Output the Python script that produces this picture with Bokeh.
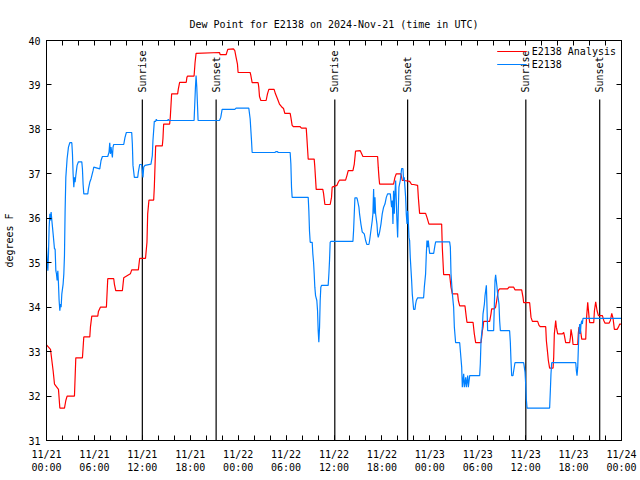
import numpy as np
from bokeh.plotting import figure
from bokeh.models import FixedTicker, LinearAxis, Range1d, Legend, LegendItem
from bokeh.core.properties import value
from bokeh.embed import file_html
from bokeh.resources import INLINE

FONT = "DejaVu Sans Mono"

# ---- data (hours since 2024-11-21 00:00 UTC) ----
analysis_hours = [0, 0.5, 0.67, 0.83, 1.0, 1.5, 1.67, 2.25, 2.42, 2.58, 3.5, 3.67, 4.5, 4.67, 5.42, 5.5, 5.67,
                  6.42, 6.5, 6.75, 7.5, 7.58, 7.67, 8.42, 8.5, 8.67, 9.5, 9.67, 10.5, 10.67, 11.5, 11.67, 12.4,
                  12.58, 12.67, 12.83, 13.42, 13.5, 13.67, 14.5, 14.58, 14.67, 15.42, 15.5, 15.67, 16.42, 16.5,
                  16.67, 17.5, 17.58, 17.67, 18.48, 18.6, 18.73, 21.66, 21.75, 22.49, 22.7, 23.41, 23.58, 23.74,
                  23.91, 23.99, 25.5, 25.58, 25.75, 26.5, 26.58, 26.67, 26.84, 27.5, 27.67, 27.84, 28.5, 28.67,
                  28.92, 29.17, 29.43, 29.68, 29.84, 30.51, 30.6, 30.76, 30.93, 31.76, 31.93, 32.52, 32.6, 32.77,
                  33.52, 33.6, 33.77, 34.6, 34.69, 34.86, 35.52, 35.69, 35.77, 36.36, 36.53, 36.7, 37.45, 37.62,
                  37.78, 38.37, 38.54, 38.7, 39.29, 39.45, 39.62, 41.46, 41.54, 41.63, 41.71, 43.46, 43.63, 43.8,
                  44.38, 44.55, 44.8, 45.47, 45.72, 45.97, 46.47, 46.56, 46.72, 47.47, 47.64, 47.89, 49.48, 49.56,
                  49.73, 50.48, 50.65, 50.82, 51.48, 51.57, 51.74, 52.4, 52.57, 52.65, 53.41, 53.57, 53.74, 54.41,
                  54.49, 54.58, 54.66, 54.74, 55.49, 55.66, 55.74, 56.07, 56.24, 56.41, 56.57, 56.74, 57.74, 57.91,
                  58.5, 58.66, 59.5, 59.67, 59.75, 60.5, 60.67, 60.84, 61.5, 61.67, 61.84, 62.51, 62.59, 62.76,
                  62.84, 63.0, 63.43, 63.51, 63.59, 63.76, 63.84, 64.01, 64.6, 64.76, 64.85, 65.01, 65.51, 65.6,
                  65.68, 65.85, 65.93, 66.52, 66.6, 66.68, 66.77, 66.85, 66.93, 67.02, 67.52, 67.6, 67.77, 67.94,
                  68.02, 68.52, 68.61, 68.77, 68.94, 69.11, 69.61, 69.78, 69.94, 70.44, 70.61, 70.78, 70.94, 71.11,
                  71.45, 71.61, 71.78, 72.0]
analysis_dewpt = [33.15, 33.05, 32.8, 32.57, 32.27, 32.15, 31.73, 31.73, 31.9, 32.0, 32.0, 32.86, 32.86, 33.33, 33.33,
                  33.55, 33.8, 33.8, 33.9, 34.0, 34.0, 34.3, 34.64, 34.64, 34.52, 34.37, 34.37, 34.66, 34.75, 34.84,
                  34.84, 35.1, 35.1, 35.46, 36.1, 36.41, 36.41, 36.7, 37.63, 37.63, 37.79, 38.12, 38.12, 38.27, 38.8,
                  38.8, 38.9, 39.06, 39.06, 39.17, 39.2, 39.2, 39.5, 39.71, 39.73, 39.68, 39.68, 39.8, 39.81, 39.77,
                  39.62, 39.47, 39.28, 39.28, 39.22, 39.05, 39.05, 38.95, 38.74, 38.65, 38.65, 38.8, 38.9, 38.9, 38.8,
                  38.69, 38.57, 38.51, 38.47, 38.36, 38.36, 38.27, 38.09, 38.06, 38.06, 38.03, 38.03, 37.82, 37.33,
                  37.33, 37.15, 36.65, 36.65, 36.56, 36.31, 36.31, 36.47, 36.7, 36.74, 36.81, 36.86, 36.86, 36.96,
                  37.07, 37.07, 37.22, 37.51, 37.52, 37.46, 37.39, 37.39, 37.15, 36.92, 36.77, 36.77, 36.92, 37.0,
                  37.0, 36.85, 36.85, 36.83, 36.76, 36.76, 36.74, 36.47, 36.11, 36.11, 36.02, 35.87, 35.87, 35.35,
                  34.73, 34.73, 34.45, 34.3, 34.3, 34.15, 34.03, 34.03, 33.77, 33.66, 33.66, 33.4, 33.2, 33.2, 33.32,
                  33.47, 33.55, 33.68, 33.68, 33.85, 33.96, 33.96, 34.0, 34.19, 34.37, 34.41, 34.41, 34.45, 34.45,
                  34.39, 34.39, 34.22, 34.1, 34.1, 33.77, 33.68, 33.68, 33.59, 33.56, 33.56, 33.25, 32.95, 32.8, 32.63,
                  32.63, 32.87, 33.4, 33.7, 33.55, 33.4, 33.4, 33.43, 33.36, 33.2, 33.2, 33.32, 33.5, 33.32, 33.16,
                  33.16, 33.43, 33.55, 33.4, 33.49, 33.4, 33.28, 33.28, 33.7, 34.11, 33.77, 33.65, 33.65, 33.92, 34.12,
                  33.92, 33.81, 33.81, 33.7, 33.64, 33.64, 33.7, 33.86, 33.75, 33.5, 33.5, 33.55, 33.62, 33.62]

station_hours = [0, 0.08, 0.17, 0.25, 0.33, 0.42, 0.5, 0.58, 0.67, 0.75, 0.83, 1.0, 1.08, 1.17, 1.25, 1.33, 1.42, 1.5,
                 1.58, 1.67, 1.75, 1.83, 1.92, 2.08, 2.17, 2.25, 2.33, 2.42, 2.58, 2.75, 2.92, 3.17, 3.25, 3.33, 3.42,
                 3.5, 3.58, 3.67, 3.83, 4.0, 4.42, 4.5, 4.58, 4.67, 5.17, 5.25, 5.42, 5.58, 5.83, 5.92, 6.67, 6.83,
                 7.0, 7.67, 7.83, 7.92, 8.0, 8.08, 8.25, 8.33, 8.42, 9.67, 9.83, 10.0, 10.67, 10.75, 10.83, 11.0,
                 11.42, 11.5, 11.67, 11.92, 12.0, 12.08, 12.17, 12.33, 13.08, 13.25, 13.33, 13.5, 13.67, 13.75, 13.83,
                 15.17, 15.25, 15.33, 18.48, 18.65, 18.73, 18.82, 18.98, 21.66, 21.82, 21.99, 23.58, 23.74, 25.33,
                 25.5, 25.67, 25.75, 28.59, 28.76, 28.92, 29.01, 30.51, 30.6, 30.68, 30.76, 32.77, 32.85, 32.93,
                 33.02, 33.27, 33.35, 33.44, 33.52, 33.6, 33.69, 33.85, 33.94, 34.02, 34.1, 34.19, 34.27, 34.35,
                 34.44, 35.27, 35.36, 35.44, 35.52, 35.61, 38.37, 38.45, 38.62, 38.87, 38.95, 39.12, 39.2, 39.37,
                 39.54, 39.79, 39.96, 40.12, 40.37, 40.46, 40.62, 40.79, 40.87, 40.96, 41.04, 41.13, 41.21, 41.38,
                 41.46, 41.54, 41.71, 41.88, 42.04, 42.21, 42.38, 42.55, 42.71, 43.05, 43.21, 43.3, 43.38, 43.46,
                 43.55, 43.63, 43.72, 43.88, 43.97, 44.05, 44.13, 44.3, 44.47, 44.63, 44.72, 44.8, 44.97, 45.05,
                 45.14, 45.22, 45.3, 45.39, 45.47, 45.55, 45.72, 45.8, 45.97, 46.14, 46.22, 46.31, 46.47, 47.22,
                 47.31, 47.47, 47.56, 47.64, 47.73, 47.81, 47.89, 47.98, 48.48, 48.64, 48.73, 50.48, 50.57, 50.65,
                 50.82, 50.98, 51.07, 51.23, 51.74, 51.82, 51.99, 52.07, 52.24, 52.32, 52.49, 52.57, 52.74, 52.82,
                 52.99, 54.24, 54.32, 54.41, 54.49, 54.58, 54.66, 54.83, 54.91, 55.08, 55.16, 55.24, 55.99, 56.07,
                 56.16, 56.24, 56.32, 56.41, 56.49, 56.66, 56.74, 56.83, 57.99, 58.08, 58.16, 58.25, 58.41, 58.5,
                 58.66, 59.75, 59.83, 59.92, 60.0, 60.08, 60.17, 63.0, 63.09, 63.17, 63.26, 66.27, 66.35, 66.43,
                 66.52, 66.6, 66.68, 66.77, 66.85, 66.93, 67.02, 67.1, 67.18, 72.0]
station_dewpt = [35.35, 35.05, 34.82, 35.2, 35.8, 36.1, 35.95, 36.14, 35.95, 35.8, 35.65, 35.31, 35.31, 34.82, 34.75,
                 34.6, 34.82, 34.52, 34.15, 33.92, 34.07, 34.0, 34.3, 34.52, 34.75, 35.16, 36.17, 36.92, 37.34, 37.6,
                 37.7, 37.7, 37.45, 37.0, 36.7, 36.92, 36.81, 36.96, 37.19, 37.27, 37.27, 37.11, 36.77, 36.55, 36.55,
                 36.66, 36.81, 36.89, 37.07, 37.15, 37.11, 37.3, 37.39, 37.39, 37.49, 37.7, 37.45, 37.6, 37.37, 37.6,
                 37.66, 37.66, 37.82, 37.93, 37.93, 37.67, 37.19, 36.92, 36.92, 37.04, 37.21, 37.21, 37.04, 36.92,
                 37.15, 37.19, 37.22, 37.41, 37.75, 38.18, 38.18, 38.23, 38.2, 38.2, 38.23, 38.2, 38.2, 38.95, 39.21,
                 38.95, 38.2, 38.2, 38.27, 38.45, 38.45, 38.48, 38.48, 38.24, 37.75, 37.48, 37.48, 37.5, 37.5, 37.48,
                 37.48, 37.22, 36.7, 36.47, 36.47, 36.17, 35.72, 35.46, 35.46, 35.2, 35.01, 34.75, 34.45, 34.26,
                 34.15, 33.92, 33.47, 33.21, 33.55, 34.15, 34.45, 34.49, 34.49, 34.75, 35.05, 35.46, 35.48, 35.48,
                 35.72, 36.46, 36.46, 36.4, 36.25, 36.1, 35.87, 35.69, 35.65, 35.5, 35.41, 35.41, 35.5, 35.72, 35.95,
                 36.1, 36.66, 36.1, 36.47, 36.1, 35.87, 35.65, 35.57, 35.69, 35.87, 36.1, 36.25, 36.32, 36.47, 36.55,
                 36.55, 36.25, 36.4, 35.87, 36.62, 36.1, 36.55, 36.85, 35.95, 35.57, 36.17, 36.7, 36.85, 37.12, 37.12,
                 36.85, 36.92, 36.47, 36.1, 35.87, 36.17, 35.95, 35.57, 35.5, 35.12, 34.6, 34.3, 33.95, 33.95, 34.07,
                 34.15, 34.21, 34.21, 34.45, 34.75, 35.2, 35.5, 35.35, 35.5, 35.35, 35.21, 35.21, 35.39, 35.47, 35.47,
                 35.35, 34.75, 34.3, 34.0, 33.55, 33.2, 33.2, 33.02, 32.65, 32.2, 32.5, 32.2, 32.42, 32.2, 32.46, 32.2,
                 32.46, 32.46, 32.72, 33.25, 33.4, 33.55, 33.85, 34.07, 34.26, 34.49, 34.0, 33.47, 33.47, 34.0, 34.6,
                 34.73, 34.6, 34.45, 34.3, 34.07, 33.7, 33.47, 33.47, 33.21, 32.8, 32.46, 32.46, 32.57, 32.75, 32.75,
                 32.65, 32.54, 32.27, 31.94, 31.73, 31.73, 32.12, 32.5, 32.75, 32.75, 32.57, 32.46, 32.65, 33.1, 33.47,
                 33.62, 33.4, 33.62, 33.7, 33.62, 33.75, 33.75]

sun_hours = [12.0, 21.24, 36.1, 45.22, 60.02, 69.27]
sun_labels = ["Sunrise", "Sunset", "Sunrise", "Sunset", "Sunrise", "Sunset"]

x_tick_hours = list(range(0, 73, 2))
x_label_hours = list(range(0, 73, 6))
x_tick_labels = ["11/21\n00:00", "11/21\n06:00", "11/21\n12:00", "11/21\n18:00",
                 "11/22\n00:00", "11/22\n06:00", "11/22\n12:00", "11/22\n18:00",
                 "11/23\n00:00", "11/23\n06:00", "11/23\n12:00", "11/23\n18:00",
                 "11/24\n00:00"]
y_ticks = list(range(31, 41))

# ---- figure ----
p = figure(width=640, height=480, output_backend="svg", toolbar_location=None,
           x_range=Range1d(0, 72), y_range=Range1d(31, 40),
           min_border_left=46, min_border_right=19, min_border_top=40, min_border_bottom=40,
           title="Dew Point for E2138 on 2024-Nov-21 (time in UTC)")
p.title.align = "center"
p.title.text_font = FONT
p.title.text_font_size = "10px"
p.title.text_font_style = "normal"
p.title.text_color = "black"
p.title.standoff = 22
p.xgrid.visible = False
p.ygrid.visible = False
p.outline_line_color = "black"
p.outline_line_alpha = 1
p.background_fill_color = "white"

xa = p.xaxis[0]
xa.ticker = FixedTicker(ticks=x_label_hours, minor_ticks=x_tick_hours)
xa.major_label_overrides = {h: lab for h, lab in zip(x_label_hours, x_tick_labels)}
ya = p.yaxis[0]
ya.ticker = FixedTicker(ticks=y_ticks, minor_ticks=[])
ya.axis_label = "degrees F"
for ax in (xa, ya):
    ax.major_tick_in = 5
    ax.major_tick_out = 0
    ax.minor_tick_in = 5
    ax.minor_tick_out = 0
    ax.minor_tick_line_color = "black"
    ax.major_label_text_font = FONT
    ax.major_label_text_font_size = "10px"
    ax.major_label_text_color = "black"
    ax.axis_line_color = "black"
    ax.major_tick_line_color = "black"
xa.major_label_standoff = 8
ya.major_label_standoff = 6
ya.axis_label_text_font = FONT
ya.axis_label_text_font_size = "10px"
ya.axis_label_text_font_style = "normal"
ya.axis_label_text_color = "black"
ya.axis_label_standoff = 10

# mirrored tick marks (top and right), no labels
top = LinearAxis(ticker=FixedTicker(ticks=[], minor_ticks=x_tick_hours))
right = LinearAxis(ticker=FixedTicker(ticks=[], minor_ticks=y_ticks))
for ax in (top, right):
    ax.minor_tick_in = 5
    ax.minor_tick_out = 0
    ax.minor_tick_line_color = "black"
    ax.major_tick_line_color = None
    ax.axis_line_color = "black"
p.add_layout(top, "above")
p.add_layout(right, "right")

# sunrise / sunset markers
p.segment(x0=sun_hours, y0=[31] * len(sun_hours), x1=sun_hours, y1=[38.67] * len(sun_hours),
          line_color="black", line_width=1.2)
p.text(x=sun_hours, y=[38.83] * len(sun_hours), text=sun_labels, angle=np.pi / 2,
       text_align="left", text_baseline="middle", text_font=value(FONT),
       text_font_size="10px", text_color="black")

r_an = p.line(analysis_hours, analysis_dewpt, line_color="#ff0000", line_width=1.2)
r_st = p.line(station_hours, station_dewpt, line_color="#0080ff", line_width=1.2)

legend = Legend(items=[LegendItem(label="E2138 Analysis", renderers=[r_an]),
                       LegendItem(label="E2138", renderers=[r_st])],
                location="top_right")
legend.label_text_font = FONT
legend.label_text_font_size = "10px"
legend.label_text_color = "black"
legend.background_fill_alpha = 0
legend.border_line_alpha = 0
legend.glyph_width = 30
legend.glyph_height = 12
legend.label_height = 12
legend.spacing = 1
legend.padding = 2
legend.margin = 3
p.add_layout(legend)

open("out.html", "w").write(file_html(p, INLINE))
